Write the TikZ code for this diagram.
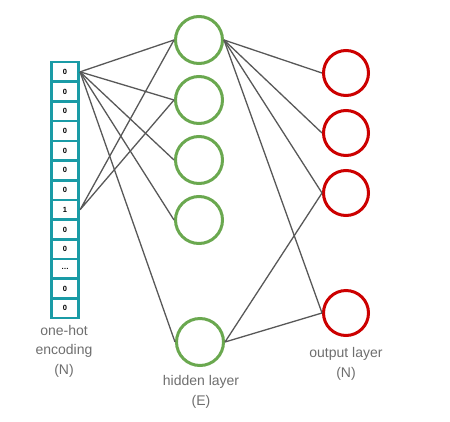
\documentclass[tikz,border=0pt]{standalone}
\usepackage{fontspec}
\setmainfont{Liberation Sans}
\usepackage{xcolor}
\usepackage{tikz}
\usetikzlibrary{calc}

\definecolor{cellteal}{HTML}{1A9BA6}
\definecolor{hidgreen}{HTML}{6AA84F}
\definecolor{outred}{HTML}{CC0000}
\definecolor{wiregray}{HTML}{585858}
\definecolor{labgray}{HTML}{6E6E6E}

\begin{document}
\begin{tikzpicture}[x=1pt,y=-1pt,
		cell/.style={draw=cellteal,line width=2.6pt,minimum width=27.5pt,
			minimum height=19.7pt,inner sep=0pt,font=\fontsize{7.5}{8}\selectfont\bfseries},
		hid/.style={circle,draw=hidgreen,line width=3pt,minimum size=47pt,inner sep=0pt},
		outp/.style={circle,draw=outred,line width=3pt,minimum size=45pt,inner sep=0pt},
		wire/.style={draw=wiregray,line width=1.3pt},
		lab/.style={align=center,text=labgray,font=\fontsize{14}{19.5}\selectfont}]
		\useasboundingbox (0,0) rectangle (450,421);
		\def\ch{19.7}
		% one-hot column
		\foreach \v [count=\i] in {0,0,0,0,0,0,0,1,0,0,{\ldots},0,0}
			\node[cell] (c\i) at (65,{62+\ch*(\i-0.5)}) {\v};
		% hidden layer
		\foreach \y [count=\i] in {40,100,160,220}
			\node[hid] (h\i) at (199,\y) {};
		\node[hid] (h5) at (200,342) {};
		% output layer
		\foreach \y [count=\i] in {73,133,193,313}
			\node[outp] (o\i) at (346,\y) {};
		% connections
		\foreach \j in {1,...,5}
			\draw[wire] (c1.east) -- (h\j.west);
		\draw[wire] (c8.east) -- (h1.west)
			  (c8.east) -- (h2.west);
		\foreach \j in {1,...,4}
			\draw[wire] (h1.east) -- (o\j.west);
		\draw[wire] (h5.east) -- (o3.west)
			  (h5.east) -- (o4.west);
		% labels
		\node[lab] (lblInput) at (64,351) {one-hot\\encoding\\(N)};
		\node[lab] (lblHidden) at (201,392) {hidden layer\\(E)};
		\node[lab] (lblOutput) at (346,364) {output layer\\(N)};
	\end{tikzpicture}
\end{document}
